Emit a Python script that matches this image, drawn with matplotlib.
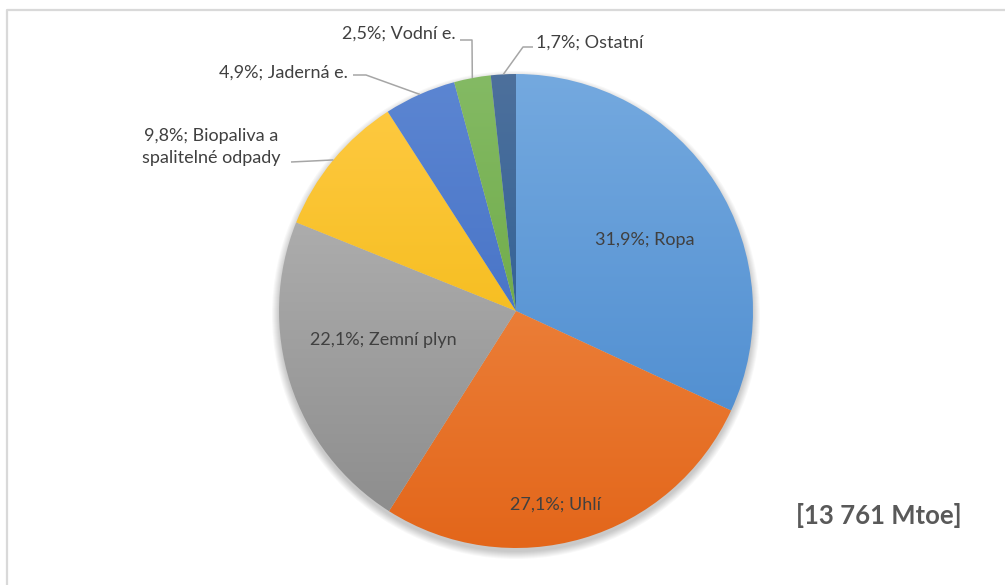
import numpy as np
import matplotlib.pyplot as plt
from matplotlib.patches import Circle
from matplotlib.colors import to_rgb

# --- data ---
labels = ['Ropa', 'Uhlí', 'Zemní plyn', 'Biopaliva a\nspalitelné odpady',
          'Jaderná e.', 'Vodní e.', 'Ostatní']
shares = [31.9, 27.1, 22.1, 9.8, 4.9, 2.5, 1.7]
total_label = '[13 761 Mtoe]'

# gradient colours (top of the pie -> bottom of the pie)
top_colors = ['#74a9df', '#f39554', '#bcbcbc', '#ffcb45', '#5c86d2', '#84ba64', '#4d709c']
bottom_colors = ['#4586cc', '#e3661a', '#8a8a8a', '#eeb200', '#3764bd', '#5f9f33', '#1d5792']

plt.rcParams['font.family'] = ['Lato', 'DejaVu Sans']
TXT = '#404040'
LEAD = '#a6a6a6'

fig = plt.figure(figsize=(10.05, 5.85), dpi=100)
ax = fig.add_axes([0, 0, 1, 1])

cx, cy, r = 516, 311, 237

# soft shadow under the pie
for k in range(8):
    ax.add_patch(Circle((cx, cy + 4), r + 7 - k, color='black', alpha=0.028, lw=0, zorder=0))

# y axis is inverted (screen coords), so counterclockwise in data = clockwise on screen
wedges, _ = ax.pie(shares, startangle=-90, counterclock=True, radius=r,
                   center=(cx, cy), wedgeprops=dict(linewidth=0, facecolor='none'))

grad = np.linspace(0, 1, 256)[:, None, None]
for w, c0, c1 in zip(wedges, top_colors, bottom_colors):
    img = (1 - grad) * np.array(to_rgb(c0)) + grad * np.array(to_rgb(c1))
    im = ax.imshow(img, extent=(cx - r, cx + r, cy + r, cy - r), origin='upper',
                   interpolation='bilinear', aspect='auto', zorder=1)
    im.set_clip_path(w)

def label_text(i):
    return f'{shares[i]:.1f}'.replace('.', ',') + '%; ' + labels[i]

# inside labels
inside_pos = {0: (645, 240), 1: (555, 505), 2: (383, 340)}
for i, (x, y) in inside_pos.items():
    ax.text(x, y, label_text(i), ha='center', va='center', fontsize=13, color=TXT, zorder=3)

# outside labels with leader lines
cum = np.cumsum([0] + shares)
def edge_point(i):
    th = np.deg2rad(-90 + 360 * (cum[i] + shares[i] / 2) / 100)
    return cx + r * np.cos(th), cy + r * np.sin(th)

outside = {
    3: dict(elbow=(312, 161), end=(291, 162), text=(211, 147), ha='center'),
    4: dict(elbow=(366, 75), end=(353, 75), text=(348, 73), ha='right'),
    5: dict(elbow=(472, 40), end=(460, 40), text=(456, 34), ha='right'),
    6: dict(elbow=(523, 47), end=(533, 47), text=(536, 43), ha='left'),
}
for i, o in outside.items():
    ex, ey = edge_point(i)
    ax.plot([ex, o['elbow'][0], o['end'][0]], [ey, o['elbow'][1], o['end'][1]],
            color=LEAD, lw=1.1, zorder=2, solid_capstyle='butt')
    ax.text(o['text'][0], o['text'][1], label_text(i), ha=o['ha'], va='center',
            fontsize=13, color=TXT, linespacing=1.5, multialignment='center', zorder=3)

ax.text(879, 515, total_label, ha='center', va='center', fontsize=18.5,
        fontweight='bold', color='#595959')

# chart area border
ax.plot([7, 7, 1010], [590, 10, 10], color='#d9d9d9', lw=1.6, zorder=0)

ax.set_xlim(0, 1005)
ax.set_ylim(585, 0)
ax.set_aspect('auto')
ax.axis('off')

fig.savefig('out.png', dpi=100)
